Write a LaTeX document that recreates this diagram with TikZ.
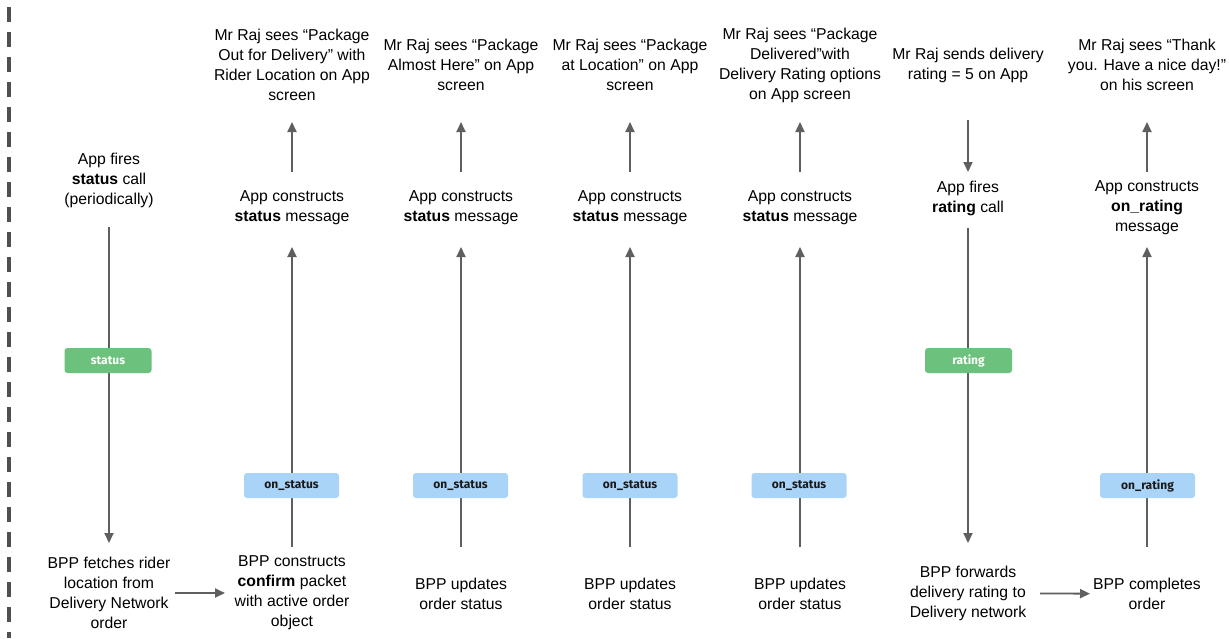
\documentclass[tikz,border=0pt]{standalone}
\usepackage{fontspec}
\setmainfont{Liberation Sans}
\newfontfamily\tagfont{Fira Sans}
\usetikzlibrary{arrows.meta}
\definecolor{linegray}{HTML}{5F5F5F}
\definecolor{dashgray}{HTML}{505050}
\definecolor{taggreen}{HTML}{6CC17C}
\definecolor{tagblue}{HTML}{AAD3F8}
\definecolor{tagtext}{HTML}{1A1A1A}
\begin{document}
\begin{tikzpicture}[x=1pt,y=-1pt,
  lbl/.style={align=center,inner sep=0pt,font=\fontsize{15.75}{20}\selectfont},
  arr/.style={draw=linegray,line width=1.8pt,-{Triangle[length=10pt,width=9pt]}},
  reqtag/.style={fill=taggreen,rounded corners=3pt,minimum width=87pt,minimum height=25pt,inner sep=0pt,text=white,font=\tagfont\bfseries\fontsize{12}{13}\selectfont},
  restag/.style={fill=tagblue,rounded corners=3pt,minimum width=95pt,minimum height=25pt,inner sep=0pt,text=tagtext,font=\tagfont\bfseries\fontsize{12}{13}\selectfont}
]
\useasboundingbox (0,0) rectangle (1229,638);
\fill[white] (0,0) rectangle (1229,638);
% left dashed boundary
\draw[draw=dashgray,line width=3.5pt,dash pattern=on 15pt off 10pt] (9,7) -- (9,638);

% column 1
\node[lbl] (m1) at (109,180) {App fires\\\textbf{status} call\\(periodically)};
\node[lbl] (b1) at (109,593) {BPP fetches rider\\location from\\Delivery Network\\order};
% column 2
\node[lbl] (t2) at (292,65) {Mr Raj sees “Package\\Out for Delivery” with\\Rider Location on App\\screen};
\node[lbl] (m2) at (292,208) {App constructs\\\textbf{status} message};
\node[lbl] (b2) at (292,593) {BPP constructs\\\textbf{confirm} packet\\with active order\\object};
% column 3
\node[lbl] (t3) at (461,65) {Mr Raj sees “Package\\Almost Here” on App\\screen};
\node[lbl] (m3) at (461,208) {App constructs\\\textbf{status} message};
\node[lbl] (b3) at (461,594) {BPP updates\\order status};
% column 4
\node[lbl] (t4) at (630,65) {Mr Raj sees “Package\\at Location” on App\\screen};
\node[lbl] (m4) at (630,208) {App constructs\\\textbf{status} message};
\node[lbl] (b4) at (630,594) {BPP updates\\order status};
% column 5
\node[lbl] (t5) at (800,65) {Mr Raj sees “Package\\Delivered”with\\Delivery Rating options\\on App screen};
\node[lbl] (m5) at (800,208) {App constructs\\\textbf{status} message};
\node[lbl] (b5) at (800,594) {BPP updates\\order status};
% column 6
\node[lbl] (t6) at (968,65) {Mr Raj sends delivery\\rating = 5 on App};
\node[lbl] (m6) at (968,198) {App fires\\\textbf{rating} call};
\node[lbl] (b6) at (968,593) {BPP forwards\\delivery rating to\\Delivery network};
% column 7
\node[lbl] (t7) at (1147,65) {Mr Raj sees “Thank\\you. Have a nice day!”\\on his screen};
\node[lbl] (m7) at (1147,208) {App constructs\\\textbf{on\_rating}\\message};
\node[lbl] (b7) at (1147,594) {BPP completes\\order};

% connectors
\draw[arr,shorten <=47pt,shorten >=50pt] (m1.center) -- (b1.center);
\draw[arr,shorten <=66pt,shorten >=67pt] (b1.center) -- (b2.center);
\foreach \c in {2,3,4,5,7}{
  \draw[arr,shorten <=36pt,shorten >=57pt] (m\c.center) -- (t\c.center);
}
\draw[arr,shorten <=46pt,shorten >=39pt] (b2.center) -- (m2.center);
\draw[arr,shorten <=47pt,shorten >=39pt] (b3.center) -- (m3.center);
\draw[arr,shorten <=47pt,shorten >=39pt] (b4.center) -- (m4.center);
\draw[arr,shorten <=47pt,shorten >=39pt] (b5.center) -- (m5.center);
\draw[arr,shorten <=47pt,shorten >=39pt] (b7.center) -- (m7.center);
\draw[arr,shorten <=55pt,shorten >=26pt] (t6.center) -- (m6.center);
\draw[arr,shorten <=30pt,shorten >=50pt] (m6.center) -- (b6.center);
\draw[arr,shorten <=72pt,shorten >=57pt] (b6.center) -- (b7.center);

% message tags
\node[reqtag] (g1) at (108,360.5) {status};
\node[restag] (s2) at (291.5,485.5) {on\_status};
\node[restag] (s3) at (460.5,485.5) {on\_status};
\node[restag] (s4) at (630,485.5) {on\_status};
\node[restag] (s5) at (799,485.5) {on\_status};
\node[reqtag] (g6) at (968.5,360.5) {rating};
\node[restag] (s7) at (1147.5,485.5) {on\_rating};
\end{tikzpicture}
\end{document}
